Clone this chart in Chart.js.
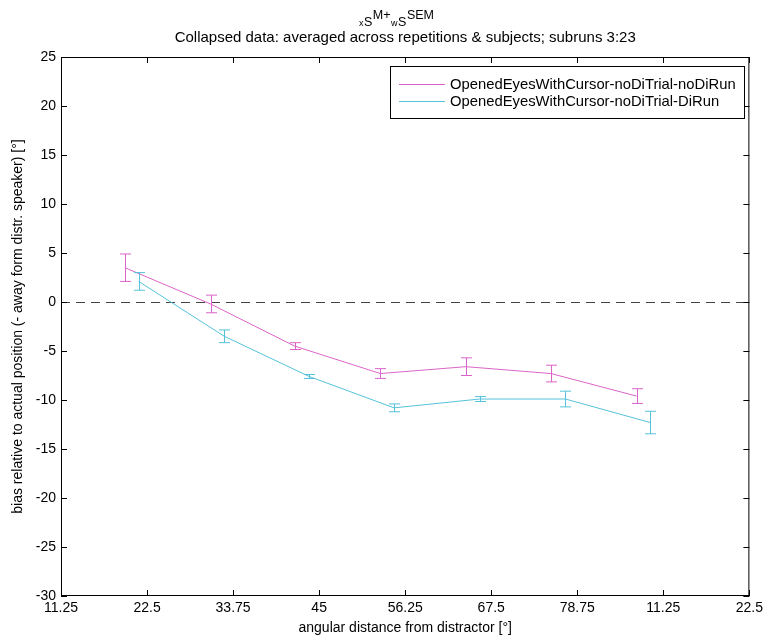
<!DOCTYPE html>
<html>
<head>
<meta charset="utf-8">
<script src="https://cdn.jsdelivr.net/npm/chart.js@4.4.1/dist/chart.umd.min.js"></script>
<style>
  html, body { margin: 0; padding: 0; background: #fff; }
  #wrap { width: 767px; height: 639px; }
</style>
</head>
<body>
<div id="wrap"><canvas id="chart"></canvas></div>
<script>
// x positions (deg), two conditions slightly offset
const noDiRunX = [19.6, 30.8, 41.8, 53.0, 64.2, 75.3, 86.5];
const noDiRunMean = [3.5, -0.2, -4.5, -7.3, -6.6, -7.3, -9.6];
const noDiRunSem = [1.4, 0.9, 0.35, 0.5, 0.9, 0.85, 0.75];

const diRunX = [21.4, 32.6, 43.7, 54.8, 66.0, 77.2, 88.3];
const diRunMean = [2.1, -3.5, -7.6, -10.8, -9.9, -9.9, -12.3];
const diRunSem = [0.9, 0.65, 0.2, 0.4, 0.25, 0.8, 1.15];

const xTickValues = [11.25, 22.5, 33.75, 45, 56.25, 67.5, 78.75, 90, 101.25];
const xTickLabels = ['11.25', '22.5', '33.75', '45', '56.25', '67.5', '78.75', '11.25', '22.5'];

const seriesLabels = ['OpenedEyesWithCursor-noDiTrial-noDiRun', 'OpenedEyesWithCursor-noDiTrial-DiRun'];
const PINK = '#dc64c8';
const CYAN = '#55c2da';
const FONT = "'Liberation Sans', Arial, Helvetica, sans-serif";

Chart.defaults.font.family = FONT;
Chart.defaults.color = '#000';

const toPoints = (xs, ys) => xs.map((x, i) => ({ x: x, y: ys[i] }));

// box + inward ticks on all four sides, like a matlab axes
const axesBox = {
  id: 'axesBox',
  afterDraw(chart) {
    const { ctx, chartArea: a, scales } = chart;
    ctx.save();
    ctx.strokeStyle = '#000';
    ctx.lineWidth = 1;
    ctx.strokeRect(a.left + 0.5, a.top + 0.5, a.right - a.left - 1, a.bottom - a.top - 1);
    ctx.beginPath();
    scales.x.ticks.forEach(t => {
      const px = Math.round(scales.x.getPixelForValue(t.value)) + 0.5;
      ctx.moveTo(px, a.bottom); ctx.lineTo(px, a.bottom - 6);
      ctx.moveTo(px, a.top); ctx.lineTo(px, a.top + 6);
    });
    scales.y.ticks.forEach(t => {
      const py = Math.round(scales.y.getPixelForValue(t.value)) + 0.5;
      ctx.moveTo(a.left, py); ctx.lineTo(a.left + 6, py);
      ctx.moveTo(a.right, py); ctx.lineTo(a.right - 6, py);
    });
    ctx.stroke();
    ctx.restore();
  }
};

// dashed zero line
const zeroLine = {
  id: 'zeroLine',
  beforeDatasetsDraw(chart) {
    const { ctx, chartArea: a, scales } = chart;
    const py = Math.round(scales.y.getPixelForValue(0)) + 0.5;
    ctx.save();
    ctx.strokeStyle = '#444';
    ctx.lineWidth = 1.2;
    ctx.setLineDash([9, 6]);
    ctx.beginPath();
    ctx.moveTo(a.left, py);
    ctx.lineTo(a.right, py);
    ctx.stroke();
    ctx.restore();
  }
};

// SEM error bars with caps
const errorBars = {
  id: 'errorBars',
  afterDatasetsDraw(chart) {
    const { ctx, scales } = chart;
    const cap = 5.5;
    ctx.save();
    ctx.lineWidth = 1;
    chart.data.datasets.forEach(ds => {
      ctx.strokeStyle = ds.borderColor;
      ctx.beginPath();
      ds.data.forEach((p, i) => {
        const px = Math.round(scales.x.getPixelForValue(p.x)) + 0.5;
        const y1 = scales.y.getPixelForValue(p.y + ds.sem[i]);
        const y2 = scales.y.getPixelForValue(p.y - ds.sem[i]);
        ctx.moveTo(px, y1); ctx.lineTo(px, y2);
        ctx.moveTo(px - cap, y1); ctx.lineTo(px + cap, y1);
        ctx.moveTo(px - cap, y2); ctx.lineTo(px + cap, y2);
      });
      ctx.stroke();
    });
    ctx.restore();
  }
};

// boxed legend in the upper right corner
const boxLegend = {
  id: 'boxLegend',
  afterDraw(chart) {
    const { ctx } = chart;
    const bx = 390, by = 66, bw = 354, bh = 52;
    ctx.save();
    ctx.fillStyle = '#fff';
    ctx.fillRect(bx, by, bw, bh);
    ctx.strokeStyle = '#000';
    ctx.lineWidth = 1;
    ctx.strokeRect(bx + 0.5, by + 0.5, bw, bh);
    ctx.font = '14.8px ' + FONT;
    ctx.textBaseline = 'middle';
    chart.data.datasets.forEach((ds, i) => {
      const y = by + 18 + i * 17 + 0.5;
      ctx.strokeStyle = ds.borderColor;
      ctx.beginPath();
      ctx.moveTo(bx + 9, y); ctx.lineTo(bx + 55, y);
      ctx.stroke();
      ctx.fillStyle = '#000';
      ctx.fillText(ds.label, bx + 60, y);
    });
    ctx.restore();
  }
};

// tex-like title with sub/superscripts and the subtitle line
const texTitle = {
  id: 'texTitle',
  afterDraw(chart) {
    const { ctx, chartArea: a } = chart;
    const parts = [
      ['x', 9, 26], ['S', 12.5, 26], ['M+', 12.5, 19],
      ['w', 9, 26], ['S', 12.5, 26], ['SEM', 12.5, 19]
    ];
    ctx.save();
    ctx.fillStyle = '#000';
    ctx.textBaseline = 'alphabetic';
    let x = 359;
    parts.forEach(([txt, size, base]) => {
      ctx.font = size + 'px ' + FONT;
      ctx.fillText(txt, x, base);
      x += ctx.measureText(txt).width + 0.5;
    });
    ctx.font = '15px ' + FONT;
    ctx.textAlign = 'center';
    ctx.fillText('Collapsed data: averaged across repetitions & subjects; subruns 3:23', (a.left + a.right) / 2, 42);
    ctx.restore();
  }
};

new Chart(document.getElementById('chart'), {
  type: 'line',
  data: {
    datasets: [
      {
        label: seriesLabels[0],
        data: toPoints(noDiRunX, noDiRunMean),
        sem: noDiRunSem,
        borderColor: PINK,
        borderWidth: 1,
        pointRadius: 0,
        tension: 0
      },
      {
        label: seriesLabels[1],
        data: toPoints(diRunX, diRunMean),
        sem: diRunSem,
        borderColor: CYAN,
        borderWidth: 1,
        pointRadius: 0,
        tension: 0
      }
    ]
  },
  options: {
    responsive: true,
    maintainAspectRatio: false,
    animation: false,
    layout: { padding: { left: 0, top: 57, right: 11, bottom: 0 } },
    scales: {
      x: {
        type: 'linear',
        min: 11.25,
        max: 101.25,
        afterBuildTicks: s => { s.ticks = xTickValues.map(v => ({ value: v })); },
        afterFit: s => { s.height = 43; },
        grid: { display: false, drawTicks: false },
        border: { display: false },
        ticks: {
          padding: 4,
          maxRotation: 0,
          autoSkip: false,
          font: { size: 14 },
          callback: (v, i) => xTickLabels[i]
        },
        title: {
          display: true,
          text: 'angular distance from distractor [°]',
          font: { size: 14 },
          padding: { top: 0, bottom: 2 }
        }
      },
      y: {
        min: -30,
        max: 25,
        afterFit: s => { s.width = 61; },
        grid: { display: false, drawTicks: false },
        border: { display: false },
        ticks: { stepSize: 5, padding: 5, font: { size: 14 } },
        title: {
          display: true,
          text: 'bias relative to actual position (- away form distr. speaker) [°]',
          font: { size: 14 },
          padding: { top: 10, bottom: 0 }
        }
      }
    },
    plugins: {
      legend: { display: false },
      tooltip: { enabled: false }
    }
  },
  plugins: [zeroLine, errorBars, axesBox, boxLegend, texTitle]
});
</script>
</body>
</html>
